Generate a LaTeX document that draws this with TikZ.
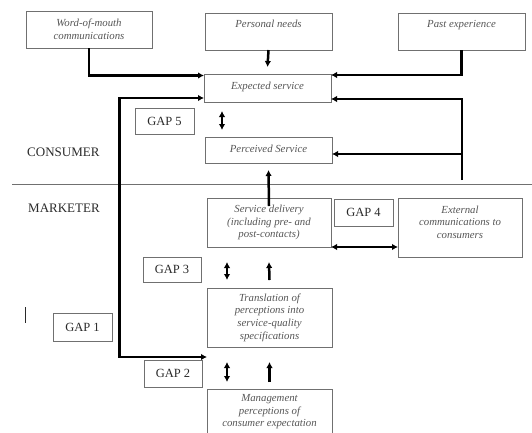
\documentclass[tikz,border=0pt]{standalone}
\usepackage{fontspec}
\setmainfont{Liberation Serif}
\usetikzlibrary{arrows.meta,calc}
\definecolor{boxline}{HTML}{707070}
\definecolor{boxtext}{HTML}{555555}
\definecolor{gaptext}{HTML}{2A2A2A}
\begin{document}
\begin{tikzpicture}[x=1pt,y=-1pt,
  box/.style={draw=boxline,line width=0.8pt,inner sep=0pt,outer sep=0pt,anchor=north west,
    font=\fontsize{10.8}{12.6}\selectfont\itshape,text=boxtext,align=center},
  txt/.style={inner sep=0pt,font=\fontsize{10.8}{12.6}\selectfont\itshape,text=boxtext,align=center},
  gapbox/.style={draw=boxline,line width=0.8pt,inner sep=0pt,outer sep=0pt,anchor=north west,
    font=\fontsize{12.5}{14}\selectfont,text=gaptext},
  side/.style={inner sep=0pt,anchor=west,font=\fontsize{13}{15}\selectfont,text=gaptext},
  arr/.style={line width=2.5pt,-{Latex[length=6pt,width=6.5pt]}},
  dbl/.style={line width=2.5pt,{Latex[length=6pt,width=6.5pt]}-{Latex[length=6pt,width=6.5pt]}}
]
\useasboundingbox (0,0) rectangle (532,432);
\clip (0,0) rectangle (532,432);

% boxes
\node[box,minimum width=126pt,minimum height=37pt] (wom) at (26,11) {Word-of-mouth\\communications};
\node[box,minimum width=127pt,minimum height=37pt] (pn) at (205,13) {};
\node[txt] (pnt) at ($(pn.north)+(0,11)$) {Personal needs};
\node[box,minimum width=127pt,minimum height=37pt] (pe) at (398,13) {};
\node[txt] (pet) at ($(pe.north)+(0,12)$) {Past experience};
\node[box,minimum width=127pt,minimum height=28pt] (es) at (204,74) {};
\node[txt] (est) at ($(es.north)+(0,12.5)$) {Expected service};
\node[gapbox,minimum width=59pt,minimum height=26pt] (g5) at (135,108) {GAP 5};
\node[box,minimum width=127pt,minimum height=26pt] (ps) at (205,137) {};
\node[txt] (pst) at ($(ps.north)+(0,11.5)$) {Perceived Service};
\node[box,minimum width=124pt,minimum height=49pt] (sd) at (207,198) {Service delivery\\(including pre- and\\post-contacts)};
\node[gapbox,minimum width=59pt,minimum height=27pt] (g4) at (334,199) {GAP 4};
\node[box,minimum width=124pt,minimum height=59pt] (ext) at (398,198) {};
\node[txt] (extt) at ($(ext.north)+(0,24)$) {External\\communications to\\consumers};
\node[gapbox,minimum width=58pt,minimum height=25pt] (g3) at (143,257) {GAP 3};
\node[box,minimum width=125pt,minimum height=59pt] (tr) at (207,288) {Translation of\\perceptions into\\service-quality\\specifications};
\node[gapbox,minimum width=59pt,minimum height=28pt] (g1) at (53,313) {GAP 1};
\node[gapbox,minimum width=58pt,minimum height=27pt] (g2) at (144,360) {GAP 2};
\node[box,minimum width=125pt,minimum height=60pt] (mg) at (207,389) {};
\node[txt] (mgt) at ($(mg.north)+(0,23)$) {Management\\perceptions of\\consumer expectation};

% side labels
\node[side] (cons) at (27,152) {CONSUMER};
\node[side] (mark) at (28,208) {MARKETER};

% separator
\coordinate (sepl) at (12,184.5);
\coordinate (sepr) at (532,184.5);
\draw[boxline,line width=0.8pt] (sepl) -- (sepr);
\coordinate (bar1) at (25.7,307);
\coordinate (bar2) at (25.7,323);
\draw[gaptext,line width=1.2pt] (bar1) -- (bar2);

% inputs to expected service
\draw[arr] (wom.south) |- ([yshift=-1.5pt]es.north west);
\draw[arr] (pn.south) -- ([yshift=7pt]es.north);
\draw[arr] (pe.south) |- ([yshift=-1pt]es.north east);

% external communications feedback
\coordinate (fb) at (462,180);
\draw[arr] (fb) |- ([yshift=3pt]es.south east);
\draw[arr] (fb |- 0,154) -- (ps.east |- 0,154);

% delivery to perceived
\draw[arr] ([yshift=-8pt]sd.north) -- ([yshift=-7pt]ps.south);

% GAP 1 loop
\coordinate (lp) at (119.5,357);
\draw[dbl] ([yshift=4pt]es.south west) -| (lp) -- (tr.west |- lp);

% gap arrows
\draw[dbl] ($(es.south west)+(18,9)$) -- ($(ps.north west)+(17,-7)$);
\draw[dbl] ($(sd.south west)+(20,15)$) -- ($(tr.north west)+(20,-8)$);
\draw[arr] ($(tr.north)+(0,-8)$) -- ($(sd.south)+(0,15)$);
\draw[dbl] ($(tr.south west)+(20,15)$) -- ($(mg.north west)+(20,-7)$);
\draw[arr] ($(mg.north)+(0,-7)$) -- ($(tr.south)+(0,15)$);
\draw[dbl] (sd.south east) -- (ext.west |- sd.south east);
\end{tikzpicture}
\end{document}
